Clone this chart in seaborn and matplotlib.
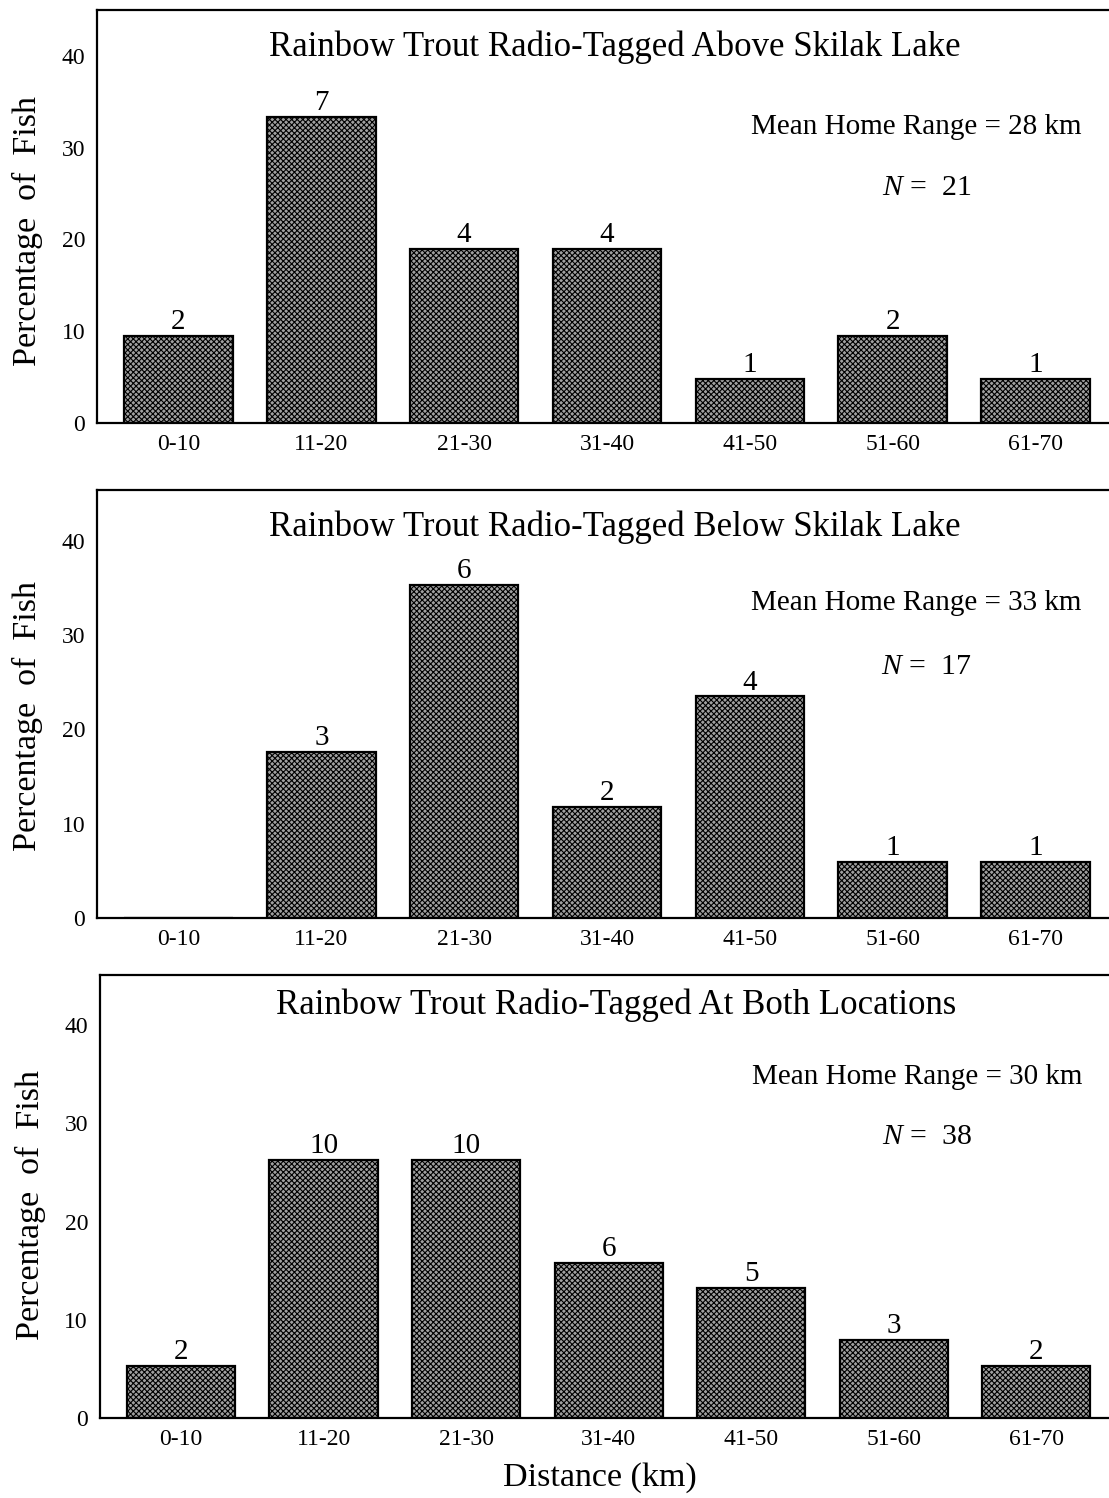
import matplotlib
matplotlib.use("Agg")
import matplotlib.pyplot as plt
import seaborn as sns
import pandas as pd

# distance classes (km)
categories = ["0-10", "11-20", "21-30", "31-40", "41-50", "51-60", "61-70"]

# percentage of fish per class
above_pct = [9.5, 33.3, 19.0, 19.0, 4.8, 9.5, 4.8]
below_pct = [0.0, 17.6, 35.3, 11.8, 23.5, 5.9, 5.9]
both_pct = [5.3, 26.3, 26.3, 15.8, 13.2, 7.9, 5.3]

# number of fish printed above each bar
above_n = [2, 7, 4, 4, 1, 2, 1]
below_n = [0, 3, 6, 2, 4, 1, 1]
both_n = [2, 10, 10, 6, 5, 3, 2]

titles = ["Rainbow Trout Radio-Tagged Above Skilak Lake",
          "Rainbow Trout Radio-Tagged Below Skilak Lake",
          "Rainbow Trout Radio-Tagged At Both Locations"]
mean_range = [28, 33, 30]
totals = [21, 17, 38]

sns.set_style("white")
plt.rcParams["font.family"] = ["Liberation Serif", "DejaVu Serif"]
plt.rcParams["mathtext.fontset"] = "custom"
plt.rcParams["mathtext.it"] = "Liberation Serif:italic"
plt.rcParams["hatch.linewidth"] = 0.8
for key in ["text.color", "axes.labelcolor", "xtick.color", "ytick.color"]:
    plt.rcParams[key] = "black"

fig = plt.figure(figsize=(11.09, 14.98), dpi=100)

# axes boxes in figure fractions [left, bottom, width, height]
boxes = [[0.0875, 0.7176, 0.912, 0.2757],
         [0.0875, 0.3872, 0.912, 0.2857],
         [0.0900, 0.0534, 0.910, 0.2957]]
ytops = [45.0, 45.4, 45.1]
title_y = [0.910, 0.913, 0.932]
mean_y = [0.717, 0.736, 0.770]
n_y = [0.569, 0.586, 0.634]
label_y = [0.466, 0.472, 0.48]

panels = [(above_pct, above_n), (below_pct, below_n), (both_pct, both_n)]

for i, (pct, counts) in enumerate(panels):
    ax = fig.add_axes(boxes[i])
    df = pd.DataFrame({"dist": categories, "pct": pct})
    sns.barplot(data=df, x="dist", y="pct", ax=ax, color="#a0a0a0",
                saturation=1, width=0.76, edgecolor="black", linewidth=1.6,
                hatch="xxxxxx")
    ax.set_xlim(-0.57, 6.51)
    ax.set_ylim(0, ytops[i])
    ax.set_yticks([0, 10, 20, 30, 40])
    ax.tick_params(axis="y", labelsize=17, length=5, width=1, direction="out")
    ax.tick_params(axis="x", labelsize=17, length=4, width=1, direction="in", pad=8)
    ax.set_xlabel("")
    ax.set_ylabel("Percentage  of  Fish", fontsize=24.5)
    ax.yaxis.set_label_coords(-0.053, label_y[i])
    for side in ["left", "top", "bottom"]:
        ax.spines[side].set_linewidth(1.6)
        ax.spines[side].set_color("black")
    ax.spines["right"].set_visible(False)

    for j, c in enumerate(counts):
        if c > 0:
            ax.text(j, pct[j] + 0.1, str(c), ha="center", va="bottom", fontsize=21)

    ax.text(0.512, title_y[i], titles[i], transform=ax.transAxes,
            ha="center", va="center", fontsize=25)
    ax.text(0.81, mean_y[i], f"Mean Home Range = {mean_range[i]} km",
            transform=ax.transAxes, ha="center", va="center", fontsize=21)
    ax.text(0.82, n_y[i], f"$N$ =  {totals[i]}", transform=ax.transAxes,
            ha="center", va="center", fontsize=21.5)

fig.text(0.541, 0.0134, "Distance (km)", ha="center", va="center", fontsize=24.5)

fig.savefig("out.png", dpi=100)
